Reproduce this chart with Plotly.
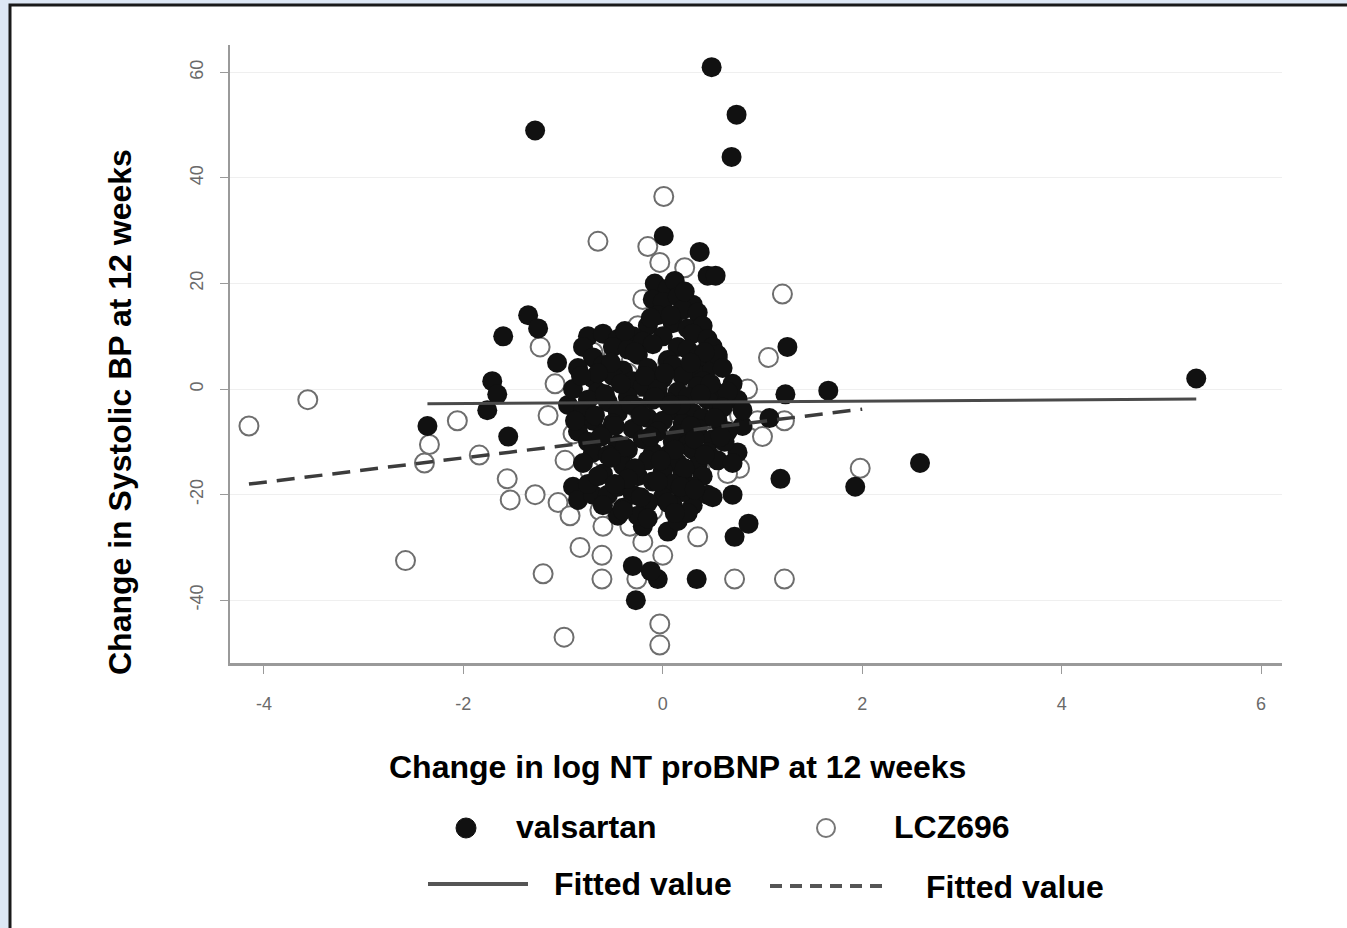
import plotly.graph_objects as go

# ---------------- data ----------------
valsartan_x = [0.49, 0.74, 0.69, -1.28, 0.01, 0.37, 0.45, 0.53, 5.35, 2.58, 1.93, 1.18, 1.25, 1.23, 1.66,
               1.07, 0.72, 0.86, 0.34, -0.05, -0.27, -0.30, -0.12, -1.35, -1.25, -1.60, -1.71, -1.66, -1.76,
               -2.36, -1.55, -1.06, -0.95, -0.90, -0.85, -0.70, -0.55, -0.45, -0.20, 0.05, 0.15, 0.30, 0.45,
               0.70, 0.75, 0.80, 0.70, 0.75, 0.55, 0.45, 0.35,
               -0.08, 0.05, 0.12, -0.10, 0.00, 0.15, 0.30, 0.20, 0.35, -0.05, -0.15, 0.10, 0.25, 0.40,
               -0.75, -0.60, -0.45, -0.30, -0.20, 0.00, 0.30, 0.45, -0.80, -0.50, -0.35, -0.10, 0.15, 0.25,
               0.50, -0.70, -0.25, 0.05, 0.35, 0.55, -0.85, -0.60, -0.40, -0.15, 0.10, 0.30, 0.60, -0.70,
               -0.50, -0.30, 0.00, 0.20, 0.40, -0.90, -0.65, -0.20, -0.05, 0.15, 0.35, 0.50, 0.65, -0.75,
               -0.55, -0.35, -0.10, 0.05, 0.25, 0.45, -0.80, -0.45, -0.25, 0.10, 0.30, 0.60, 0.80, -0.70,
               -0.50, -0.15, 0.00, 0.20, 0.40, 0.55, -0.85, -0.60, -0.30, -0.05, 0.15, 0.35, 0.65, -0.75,
               -0.45, -0.20, 0.10, 0.25, 0.50, -0.70, -0.55, -0.35, -0.10, 0.05, 0.30, 0.45, -0.80, -0.40,
               -0.15, 0.15, 0.35, 0.55, -0.60, -0.25, 0.00, 0.20, 0.40, -0.75, -0.45, -0.10, 0.10, 0.30,
               -0.30, 0.00, 0.20, 0.50, -0.60, -0.40, -0.15, 0.10, -0.25, 0.25,
               -0.38, -0.12, 0.08, 0.22, -0.52, -0.28, 0.42, -0.65, -0.42, -0.18, 0.02, 0.28, 0.48,
               -0.58, -0.32, -0.08, 0.18, 0.38, -0.68, -0.48, -0.22, 0.08, 0.28, 0.52, -0.62, -0.38,
               -0.12, 0.12, 0.32, -0.52, -0.28, -0.02, 0.22, 0.42, -0.65, -0.35, -0.05, 0.18, -0.48,
               -0.22, 0.05, 0.32, -0.40, -0.15, 0.12, 0.62, 0.70, -0.88, -0.82, 0.58]
valsartan_y = [61.0, 52.0, 44.0, 49.0, 29.0, 26.0, 21.5, 21.5, 2.0, -14.0, -18.5, -17.0, 8.0, -1.0, -0.3,
               -5.5, -28.0, -25.5, -36.0, -36.0, -40.0, -33.5, -34.5, 14.0, 11.5, 10.0, 1.5, -1.0, -4.0,
               -7.0, -9.0, 5.0, -3.0, -18.5, -21.0, -20.0, -20.0, -24.0, -26.0, -27.0, -25.0, -22.0, -20.0,
               -20.0, -12.0, -7.0, 1.0, -2.0, -3.0, 4.0, 6.0,
               20.0, 19.0, 20.5, 17.0, 16.5, 17.5, 16.0, 15.0, 14.5, 14.0, 12.0, 12.5, 11.5, 12.0,
               10.0, 10.5, 9.5, 10.0, 9.0, 10.0, 10.5, 9.5, 8.0, 8.0, 7.5, 8.5, 8.0, 7.5,
               8.0, 6.0, 6.5, 5.5, 6.0, 6.5, 4.0, 4.5, 3.5, 4.0, 4.5, 3.5, 4.0, 2.0,
               2.5, 1.5, 2.0, 2.5, 1.5, 0.0, -0.5, 0.5, 0.0, -0.5, 0.5, 0.0, -0.5, -2.0,
               -2.5, -1.5, -2.0, -2.5, -1.5, -2.0, -4.0, -4.5, -3.5, -4.0, -4.5, -3.5, -4.0, -6.0,
               -6.5, -5.5, -6.0, -6.5, -5.5, -6.0, -8.0, -8.5, -7.5, -8.0, -8.5, -7.5, -8.0, -10.0,
               -10.5, -9.5, -10.0, -10.5, -9.5, -12.0, -12.5, -11.5, -12.0, -12.5, -11.5, -12.0, -14.0, -14.5,
               -13.5, -14.0, -14.5, -13.5, -16.0, -16.5, -15.5, -16.0, -16.5, -18.0, -18.5, -17.5, -18.0, -18.5,
               -20.0, -20.5, -19.5, -20.5, -22.0, -22.5, -21.5, -22.0, -24.0, -23.5,
               11.0, 13.5, 14.0, 18.5, 5.0, 7.0, 7.0, 3.0, 1.0, 2.5, 3.0, 5.0, 1.0,
               -1.0, -3.0, -1.5, -3.0, -1.0, -5.0, -7.0, -5.0, -3.0, -7.0, -5.5, -9.0, -11.0,
               -9.0, -11.5, -9.5, -13.0, -15.0, -13.5, -15.0, -12.5, -16.5, -17.0, -17.5, -18.5, -18.0,
               -20.5, -21.5, -19.0, -23.0, -24.5, -23.5, -10.0, -14.0, -6.0, 2.5, -9.0]

lcz_x = [-4.15, -3.56, -2.58, -2.06, -2.39, -2.34, -1.56, -1.53, -1.28, -1.20, -0.99, -1.05, -0.93, -0.83,
         -0.61, -0.61, -0.65, -0.26, -0.20, -0.03, -0.03, 0.01, -0.15, -0.03, -0.20, 0.22, 0.72, 1.22,
         1.20, 1.06, 1.98, 1.22, 0.85, 0.77, 0.77, -0.33, -0.63, 0.00, -0.73, -1.23, -1.15, -1.08,
         -1.84, -0.90, -0.98, 0.37, 0.47, -0.40, -0.35, -0.50, -0.20, 0.10, 0.30, -0.55, 0.60, 0.55,
         -0.45, 0.20, -0.10, 0.35, 0.95, 1.00, -0.70, -0.25, 0.15, -0.60, 0.05, 0.65]
lcz_y = [-7.0, -2.0, -32.5, -6.0, -14.0, -10.5, -17.0, -21.0, -20.0, -35.0, -47.0, -21.5, -24.0, -30.0,
         -31.5, -36.0, 28.0, -36.0, -29.0, -44.5, -48.5, 36.5, 27.0, 24.0, 17.0, 23.0, -36.0, -36.0,
         18.0, 6.0, -15.0, -6.0, 0.0, -5.0, -15.0, -26.0, -23.0, -31.5, -15.5, 8.0, -5.0, 1.0,
         -12.5, -8.5, -13.5, -15.0, -10.5, -6.0, 3.0, 6.0, -3.0, -8.0, 2.0, -12.0, -8.0, 6.0,
         -20.0, -20.0, -23.0, -28.0, -6.0, -9.0, 7.0, 12.0, -17.0, -26.0, 5.0, -16.0]

fit_val_x = [-2.36, 5.35]
fit_val_y = [-2.8, -1.9]
fit_lcz_x = [-4.15, 2.0]
fit_lcz_y = [-18.0, -3.8]

x_ticks = [-4, -2, 0, 2, 4, 6]
y_ticks = [-40, -20, 0, 20, 40, 60]

x_title = "Change in log NT proBNP at 12 weeks"
y_title = "Change in Systolic BP at 12 weeks"
legend_labels = ["valsartan", "LCZ696", "Fitted value", "Fitted value"]

# ---------------- figure ----------------
FONT = "Arial, Liberation Sans, sans-serif"
L, R, T, B = 230, 65, 45, 265
W, H = 1347, 928
PW, PH = W - L - R, H - T - B


def px(xp):
    return (xp - L) / PW


def py(yp):
    return (H - B - yp) / PH


fig = go.Figure()
fig.add_trace(go.Scatter(x=lcz_x, y=lcz_y, mode="markers", name=legend_labels[1],
                         marker=dict(symbol="circle", size=19, color="white",
                                     line=dict(width=2, color="#6e6e6e"))))
fig.add_trace(go.Scatter(x=valsartan_x, y=valsartan_y, mode="markers", name=legend_labels[0],
                         marker=dict(symbol="circle", size=20, color="#111111",
                                     line=dict(width=0))))
fig.add_trace(go.Scatter(x=fit_val_x, y=fit_val_y, mode="lines", name=legend_labels[2],
                         line=dict(color="#4a4a4a", width=3)))
fig.add_trace(go.Scatter(x=fit_lcz_x, y=fit_lcz_y, mode="lines", name=legend_labels[3],
                         line=dict(color="#3c3c3c", width=3.5, dash="18px,10px")))

shapes = [
    # white panel with dark frame
    dict(type="rect", xref="paper", yref="paper", x0=px(10), x1=px(1400), y0=py(990), y1=py(5),
         fillcolor="white", line=dict(color="#1a1a1a", width=3), layer="below"),
    # legend glyphs
    dict(type="line", xref="paper", yref="paper", x0=px(428), x1=px(528), y0=py(884), y1=py(884),
         line=dict(color="#555555", width=4)),
    dict(type="line", xref="paper", yref="paper", x0=px(770), x1=px(885), y0=py(886), y1=py(886),
         line=dict(color="#555555", width=4, dash="12px,8px")),
    dict(type="circle", xref="paper", yref="paper", x0=px(456), x1=px(476), y0=py(838), y1=py(818),
         fillcolor="#111111", line=dict(color="#111111", width=1)),
    dict(type="circle", xref="paper", yref="paper", x0=px(817), x1=px(835), y0=py(837), y1=py(819),
         fillcolor="white", line=dict(color="#777777", width=2)),
]

annotations = [
    dict(text=f"<b>{x_title}</b>", xref="paper", yref="paper", x=px(677), y=py(767),
         xanchor="center", yanchor="middle", showarrow=False, font=dict(family=FONT, size=32, color="black")),
    dict(text=f"<b>{y_title}</b>", xref="paper", yref="paper", x=px(120), y=py(412),
         xanchor="center", yanchor="middle", showarrow=False, textangle=-90,
         font=dict(family=FONT, size=32, color="black")),
    dict(text=f"<b>{legend_labels[0]}</b>", xref="paper", yref="paper", x=px(514), y=py(827),
         xanchor="left", yanchor="middle", showarrow=False, font=dict(family=FONT, size=32, color="black")),
    dict(text=f"<b>{legend_labels[1]}</b>", xref="paper", yref="paper", x=px(892), y=py(827),
         xanchor="left", yanchor="middle", showarrow=False, font=dict(family=FONT, size=32, color="black")),
    dict(text=f"<b>{legend_labels[2]}</b>", xref="paper", yref="paper", x=px(552), y=py(884),
         xanchor="left", yanchor="middle", showarrow=False, font=dict(family=FONT, size=32, color="black")),
    dict(text=f"<b>{legend_labels[3]}</b>", xref="paper", yref="paper", x=px(924), y=py(887),
         xanchor="left", yanchor="middle", showarrow=False, font=dict(family=FONT, size=32, color="black")),
]

fig.update_layout(
    width=W, height=H,
    margin=dict(l=L, r=R, t=T, b=B, pad=0),
    paper_bgcolor="#dde7f5",
    plot_bgcolor="rgba(0,0,0,0)",
    showlegend=False,
    shapes=shapes,
    annotations=annotations,
    xaxis=dict(range=[-4.34, 6.21], tickvals=x_ticks, ticktext=[str(v) for v in x_ticks],
               showgrid=False, zeroline=False, showline=True, linecolor="#9a9a9a", linewidth=3,
               ticks="outside", ticklen=8, tickcolor="#9a9a9a", tickwidth=1, ticklabelstandoff=14,
               tickfont=dict(family=FONT, size=18, color="#6a6a6a")),
    yaxis=dict(range=[-51.9, 65.2], tickvals=y_ticks, ticktext=[str(v) for v in y_ticks],
               showgrid=True, gridcolor="#efefef", gridwidth=1, zeroline=False,
               showline=True, linecolor="#9a9a9a", linewidth=2,
               ticks="outside", ticklen=8, tickcolor="#9a9a9a", tickwidth=1, tickangle=-90,
               ticklabelstandoff=10,
               tickfont=dict(family=FONT, size=18, color="#6a6a6a")),
)

fig.write_html("out.html")
